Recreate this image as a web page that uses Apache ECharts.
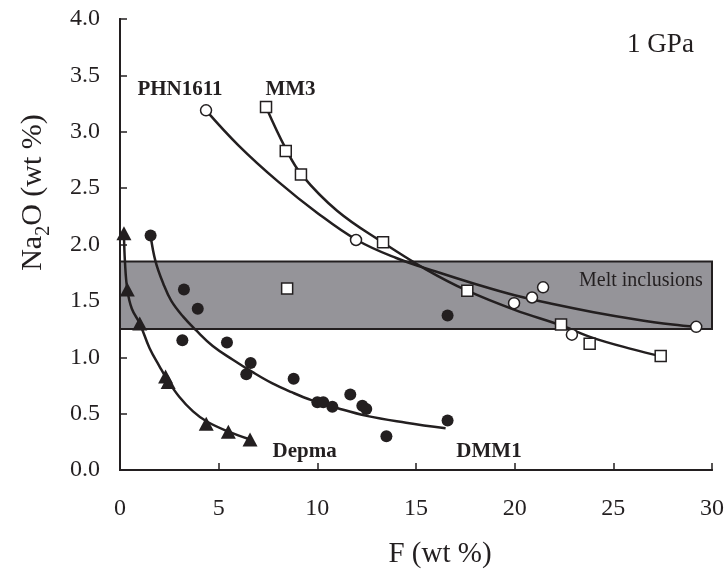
<!DOCTYPE html>
<html><head><meta charset="utf-8">
<script src="https://cdn.jsdelivr.net/npm/echarts@6/dist/echarts.min.js"></script>
<style>html,body{margin:0;padding:0;background:#fff}#c{width:727px;height:574px}</style>
</head><body><div id="c"></div>
<script>
// ---- data ----
const xTicks = [0, 5, 10, 15, 20, 25, 30];
const yTicks = [0, 0.5, 1, 1.5, 2, 2.5, 3, 3.5, 4];
const meltBand = [1.25, 1.85];

const phnPoints = [[4.36,3.19],[11.96,2.04],[19.97,1.48],[20.88,1.53],[21.44,1.62],[22.9,1.2],[29.2,1.27]];
const phnCurve  = [[4.36,3.19],[6,2.88],[8,2.56],[10,2.28],[12,2.04],[14,1.88],[16,1.76],[18,1.65],[20,1.55],[22,1.47],[24,1.40],[26,1.34],[28,1.29],[29.2,1.27]];

const mm3Points = [[7.4,3.22],[8.4,2.83],[9.17,2.62],[13.33,2.02],[17.6,1.59],[22.35,1.29],[23.8,1.12],[27.4,1.01],[8.47,1.61]];
const mm3Curve  = [[7.4,3.22],[8.4,2.85],[9.2,2.62],[11,2.3],[13.3,2.02],[15.5,1.78],[17.6,1.59],[20,1.42],[22.4,1.28],[24,1.17],[26,1.07],[27.4,1.01]];

const dmmPoints = [[1.55,2.08],[3.24,1.6],[3.94,1.43],[3.16,1.15],[5.42,1.13],[6.62,0.95],[6.4,0.85],[8.8,0.81],[10.0,0.60],[10.3,0.60],[10.76,0.56],[11.67,0.67],[12.28,0.57],[12.48,0.54],[13.5,0.30],[16.6,0.44],[16.6,1.37]];
const dmmCurve  = [[1.55,2.08],[1.8,1.85],[2.2,1.65],[2.6,1.5],[3.2,1.36],[3.85,1.24],[4.7,1.1],[5.7,0.98],[6.7,0.87],[7.7,0.77],[8.7,0.69],[9.7,0.62],[11,0.55],[12.5,0.48],[14.5,0.42],[16.5,0.37]];

const depPoints = [[0.2,2.1],[0.37,1.6],[1.0,1.3],[2.31,0.83],[2.44,0.78],[4.37,0.41],[5.49,0.34],[6.59,0.27]];
const depCurve  = [[0.2,2.1],[0.25,1.85],[0.37,1.6],[0.6,1.43],[1.0,1.3],[1.5,1.08],[2.0,0.92],[2.4,0.8],[3,0.65],[3.7,0.52],[4.4,0.43],[5.5,0.34],[6.6,0.27]];

const labelsBold = [{name:'PHN1611', value:[3.04,3.37]},{name:'MM3', value:[8.64,3.37]},{name:'Depma', value:[9.36,0.16]},{name:'DMM1', value:[18.7,0.16]}];
const labelsPlain = [{name:'Melt inclusions', value:[26.4,1.68], size:20},{name:'1 GPa', value:[27.39,3.77], size:27}];

// ---- chart ----
const ink = '#231f20';
const font = '"Liberation Serif","Times New Roman",serif';
const chart = echarts.init(document.getElementById('c'));
const lineSeries = (d) => ({type:'line', data:d, smooth:0.4, showSymbol:false, symbol:'none', silent:true,
  lineStyle:{color:ink, width:2.5}, z:3});
chart.setOption({
  animation:false,
  grid:{left:120, right:15, top:19, bottom:104},
  xAxis:[{type:'value', min:0, max:30, interval:5,
    axisLine:{lineStyle:{color:ink, width:2}}, axisTick:{inside:true, length:7, lineStyle:{color:ink, width:1.5}},
    splitLine:{show:false}, axisLabel:{color:ink, fontFamily:font, fontSize:24, margin:27},
    name:'F (wt %)', nameLocation:'middle', nameGap:70,
    nameTextStyle:{color:ink, fontFamily:font, fontSize:29, padding:[0,0,0,48]}},
    {type:'value', position:'top', min:0, max:30, axisLine:{show:true, lineStyle:{color:ink, width:2}}, axisTick:{show:false}, axisLabel:{show:false}, splitLine:{show:false}}],
  yAxis:[{type:'value', min:0, max:4, interval:0.5,
    axisLine:{lineStyle:{color:ink, width:2}}, axisTick:{inside:true, length:7, lineStyle:{color:ink, width:1.5}},
    splitLine:{show:false}, axisLabel:{color:ink, fontFamily:font, fontSize:24, margin:20, formatter:v=>v.toFixed(1)},
    name:'{a|Na}{s|2}{a|O (wt %)}', nameLocation:'middle', nameGap:72, nameRotate:90,
    nameTextStyle:{color:ink, fontFamily:font, fontSize:30, padding:[0,0,0,104],
      rich:{a:{fontFamily:font, fontSize:30, color:ink, verticalAlign:'bottom', lineHeight:34},
            s:{fontFamily:font, fontSize:20, color:ink, verticalAlign:'bottom', lineHeight:24, padding:[0,0,-6,0]}}}},
    {type:'value', position:'right', min:0, max:4, axisLine:{show:true, lineStyle:{color:ink, width:2}}, axisTick:{show:false}, axisLabel:{show:false}, splitLine:{show:false}}],
  series:[
    {type:'line', data:[], markArea:{silent:true, itemStyle:{color:'#959499', opacity:1, borderColor:ink, borderWidth:2},
      data:[[{yAxis:meltBand[0]},{yAxis:meltBand[1]}]]}, z:1},
    lineSeries(phnCurve), lineSeries(mm3Curve), lineSeries(dmmCurve), lineSeries(depCurve),
    {type:'scatter', data:phnPoints, symbol:'circle', symbolSize:11, itemStyle:{color:'#fff', opacity:1, borderColor:ink, borderWidth:1.5}, z:5},
    {type:'scatter', data:mm3Points, symbol:'rect', symbolSize:11, itemStyle:{color:'#fff', opacity:1, borderColor:ink, borderWidth:1.5}, z:5},
    {type:'scatter', data:dmmPoints, symbol:'circle', symbolSize:12, itemStyle:{color:ink, opacity:1}, z:5},
    {type:'scatter', data:depPoints, symbol:'triangle', symbolSize:[15,14], itemStyle:{color:ink, opacity:1}, z:5},
    {type:'scatter', data:labelsBold, symbolSize:0, silent:true, z:6, itemStyle:{opacity:1},
      label:{show:true, position:'inside', formatter:'{b}', color:ink, opacity:1, fontFamily:font, fontWeight:'bold', fontSize:21}},
    {type:'scatter', data:labelsPlain.map(d=>({name:d.name, value:d.value, label:{fontSize:d.size}})), symbolSize:0, silent:true, z:6, itemStyle:{opacity:1},
      label:{show:true, position:'inside', formatter:'{b}', color:ink, opacity:1, fontFamily:font, fontSize:20}}
  ]
});
</script></body></html>
